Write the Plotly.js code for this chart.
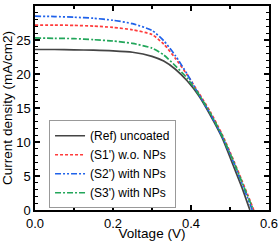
<!DOCTYPE html>
<html><head><meta charset="utf-8">
<script src="https://cdn.plot.ly/plotly-3.0.1.min.js"></script>
<style>html,body{margin:0;padding:0;background:#fff}#c{width:280px;height:241px}</style>
</head><body><div id="c"></div>
<script>
const names = ["(Ref) uncoated", "(S1') w.o. NPs", "(S2') with NPs", "(S3') with NPs"];
const vRef = [0,0.05,0.1,0.15,0.2,0.25,0.3,0.33,0.36,0.39,0.42,0.45,0.48,0.51,0.53,0.551];
const jRef = [23.6,23.6,23.55,23.5,23.4,23.2,22.6,21.9,20.7,19.0,16.8,13.9,10.6,6.3,3.4,0];
const vS1 = [0,0.05,0.1,0.15,0.2,0.25,0.3,0.33,0.36,0.39,0.42,0.45,0.48,0.51,0.53,0.545,0.561];
const jS1 = [27.2,27.2,27.15,27.05,26.85,26.5,25.8,24.4,22.3,19.9,17.2,14.4,11.1,7.2,4.4,2.3,0];
const vS2 = [0,0.05,0.1,0.15,0.2,0.25,0.3,0.33,0.36,0.39,0.42,0.45,0.48,0.51,0.53,0.545,0.557];
const jS2 = [28.5,28.45,28.35,28.2,27.9,27.4,26.4,24.9,22.7,20.0,17.0,14.1,10.8,6.9,4.0,1.8,0];
const vS3 = [0,0.05,0.1,0.15,0.2,0.25,0.3,0.33,0.36,0.39,0.42,0.45,0.48,0.51,0.53,0.545,0.56];
const jS3 = [25.3,25.25,25.2,25.05,24.85,24.5,23.8,22.8,21.2,19.4,17.0,14.2,10.9,7.0,4.2,2.1,0];
const xTickVals = [0,0.2,0.4,0.6];
const xTickText = ["0.0","0.2","0.4","0.6"];
const yTickVals = [0,5,10,15,20,25,30];

const series = [[vRef,jRef],[vS1,jS1],[vS2,jS2],[vS3,jS3]];
const colors = ["#444444","#ff3b3b","#1f62ea","#22a65a"];
const dashes = ["solid","3px,2px","6px,2px,2px,2px,2px,2px","6px,2px,2px,2px"];
const traces = series.map((s,i)=>({
  x:s[0], y:s[1], name:names[i], mode:'lines', type:'scatter',
  line:{color:colors[i], width:1.7, dash:dashes[i], shape:'spline', smoothing:0.6}
}));
const axisCommon = {showline:true, linecolor:'#000', linewidth:1.6, mirror:'allticks',
  ticks:'inside', ticklen:5, tickwidth:1.2, tickcolor:'#000', showgrid:false, zeroline:false,
  tickfont:{family:'Arial, Liberation Sans, sans-serif', size:13, color:'#000'}};
const layout = {
  width:280, height:241, margin:{l:35,r:11,t:6,b:31},
  paper_bgcolor:'#fff', plot_bgcolor:'#fff',
  font:{family:'Arial, Liberation Sans, sans-serif', color:'#000'},
  xaxis:Object.assign({}, axisCommon, {range:[0,0.6], tickvals:xTickVals, ticktext:xTickText,
    ticklabelstandoff:1,
    minor:{ticks:'inside', ticklen:3, dtick:0.1, tick0:0, tickcolor:'#000'},
    title:{text:'Voltage (V)', font:{size:13.5}, standoff:1}}),
  yaxis:Object.assign({}, axisCommon, {range:[0,30], tickvals:yTickVals,
    minor:{ticks:'inside', ticklen:3, dtick:1, tick0:0, tickcolor:'#000'},
    title:{text:'Current density (mA/cm2)', font:{size:13.5}, standoff:4}}),
  showlegend:true,
  legend:{x:0.06, y:0.44, xanchor:'left', yanchor:'top', bgcolor:'#fff',
    bordercolor:'#999', borderwidth:1, font:{size:12}, tracegroupgap:0}
};
Plotly.newPlot('c', traces, layout, {displayModeBar:false, staticPlot:true});
</script></body></html>
